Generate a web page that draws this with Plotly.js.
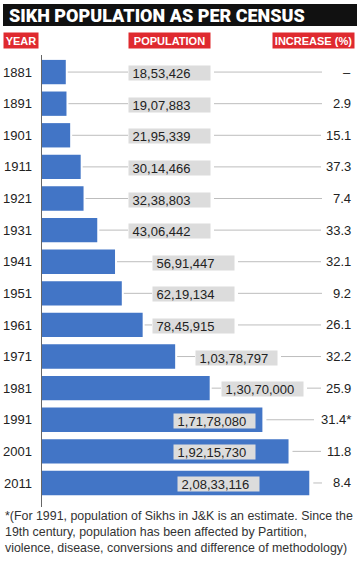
<!DOCTYPE html>
<html>
<head>
<meta charset="utf-8">
<script src="https://cdn.plot.ly/plotly-3.0.1.min.js"></script>
<style>html,body{margin:0;padding:0;background:#fff;}#chart{width:360px;height:569px;}</style>
</head>
<body>
<div id="chart"></div>
<script>
// ---- data ----
const years = ['1881','1891','1901','1911','1921','1931','1941','1951','1961','1971','1981','1991','2001','2011'];
const population = [1853426, 1907883, 2195339, 3014466, 3238803, 4306442, 5691447, 6219134, 7845915, 10378797, 13070000, 17178080, 19215730, 20833116];
const increase = [null, 2.9, 15.1, 37.3, 7.4, 33.3, 32.1, 9.2, 26.1, 32.2, 25.9, 31.4, 11.8, 8.4];
const increaseNote = ['', '', '', '', '', '', '', '', '', '', '', '*', '', ''];
const title = 'SIKH POPULATION AS PER CENSUS';
const headers = ['YEAR', 'POPULATION', 'INCREASE (%)'];
const footnote = '*(For 1991, population of Sikhs in J&K is an estimate. Since the<br>19th century, population has been affected by Partition,<br>violence, disease, conversions and difference of methodology)';

// ---- layout constants (pixels) ----
const W = 360, H = 569;
const M = {l: 42, r: 0, t: 55, b: 62};
const PW = W - M.l - M.r, PH = H - M.t - M.b;
const XMAX = 24786000;
const labelLeftPx = [128,128,128,128,128,128,152,152,152,195,221,173,173,177];
const LABEL_W = 81;
const VALUE_RIGHT = 353;

const px2x = px => (px - M.l) / PW;              // paper x
const py2y = py => 1 - (py - M.t) / PH;          // paper y
const px2data = px => (px - M.l) / PW * XMAX;    // data x
const data2px = v => M.l + v / XMAX * PW;

function indianFormat(n) {
  const s = String(Math.round(n));
  if (s.length <= 3) return s;
  const last3 = s.slice(-3);
  let rest = s.slice(0, -3);
  const parts = [];
  while (rest.length > 2) { parts.unshift(rest.slice(-2)); rest = rest.slice(0, -2); }
  if (rest.length) parts.unshift(rest);
  return parts.join(',') + ',' + last3;
}

const idx = years.map((_, i) => i);
const narrow = 'Liberation Sans Narrow, Liberation Sans, Arial, sans-serif';
const numFont = 'Liberation Sans, Arial, sans-serif';

const trace = {
  type: 'bar',
  orientation: 'h',
  x: population,
  y: idx,
  width: 0.77,
  marker: {color: '#4275c6', line: {width: 0}},
  hoverinfo: 'none'
};

const shapes = [];
const annotations = [];

// title bar
shapes.push({type: 'rect', xref: 'paper', yref: 'paper', x0: px2x(3), x1: px2x(357), y0: py2y(26), y1: py2y(4), fillcolor: '#111', line: {width: 0}, layer: 'below'});

// header labels
const headerBoxes = [[3, 34], [128, 81], [272, 81]];
headers.forEach((h, i) => {
  const [left, w] = headerBoxes[i];
  annotations.push({
    text: h, xref: 'paper', yref: 'paper', x: px2x(left), xanchor: 'left', y: py2y(40.5), yanchor: 'middle',
    width: w, height: 15, borderpad: 0, bgcolor: '#df2a2f', align: 'center', showarrow: false,
    font: {family: narrow, size: 11, color: '#fff', weight: 'bold'}
  });
});

// rows
idx.forEach(i => {
  const barEndPx = data2px(population[i]);
  const left = labelLeftPx[i];
  const right = left + LABEL_W;
  annotations.push({
    text: '&nbsp;' + indianFormat(population[i]), xref: 'paper', yref: 'y', x: px2x(left), xanchor: 'left',
    y: i, yanchor: 'middle', yshift: -1, width: LABEL_W, height: 14, borderpad: 0, bgcolor: '#dcdcdc',
    align: 'left', showarrow: false, font: {family: numFont, size: 13, color: '#222'}
  });
  const valText = increase[i] === null ? '–' : increase[i].toFixed(1) + increaseNote[i];
  annotations.push({
    text: valText, xref: 'paper', yref: 'y', x: px2x(VALUE_RIGHT), xanchor: 'right', y: i, yanchor: 'middle',
    showarrow: false, font: {family: numFont, size: 13, color: '#222'}
  });
  const inside = left < barEndPx;
  if (!inside) {
    shapes.push({type: 'line', xref: 'x', yref: 'y', x0: population[i] + px2data(M.l + 2), x1: px2data(left), y0: i, y1: i, line: {color: '#bdbdbd', width: 1}});
  }
  const start = inside ? barEndPx + 4 : right + 5;
  const estW = valText.length * 7;
  const end = Math.min(322, VALUE_RIGHT - estW - 4);
  shapes.push({type: 'line', xref: 'x', yref: 'y', x0: px2data(start), x1: px2data(end), y0: i, y1: i, line: {color: '#bdbdbd', width: 1}});
});

// footnote
annotations.push({
  text: footnote, xref: 'paper', yref: 'paper', x: px2x(3), xanchor: 'left', y: py2y(507), yanchor: 'top',
  align: 'left', showarrow: false, font: {family: numFont, size: 12.4, color: '#333'}
});

const layout = {
  width: W, height: H,
  margin: M,
  paper_bgcolor: '#fff', plot_bgcolor: '#fff',
  showlegend: false,
  title: {text: title, xref: 'container', yref: 'container', x: 9 / W, xanchor: 'left', y: 1 - 15.5 / H, yanchor: 'middle',
          font: {family: 'Roboto, Arial, sans-serif', size: 18, color: '#fff', weight: 900}},
  xaxis: {range: [0, XMAX], visible: false, fixedrange: true},
  yaxis: {range: [13.76, -0.54], autorange: false, tickvals: idx, ticktext: years, ticks: '', showgrid: false, zeroline: false,
          showline: true, linecolor: '#666', linewidth: 1.5, ticklabelstandoff: 6,
          tickfont: {family: numFont, size: 13, color: '#222'}, fixedrange: true},
  shapes: shapes,
  annotations: annotations,
  bargap: 0.2
};

Plotly.newPlot('chart', [trace], layout, {displayModeBar: false, staticPlot: true});
</script>
</body>
</html>
